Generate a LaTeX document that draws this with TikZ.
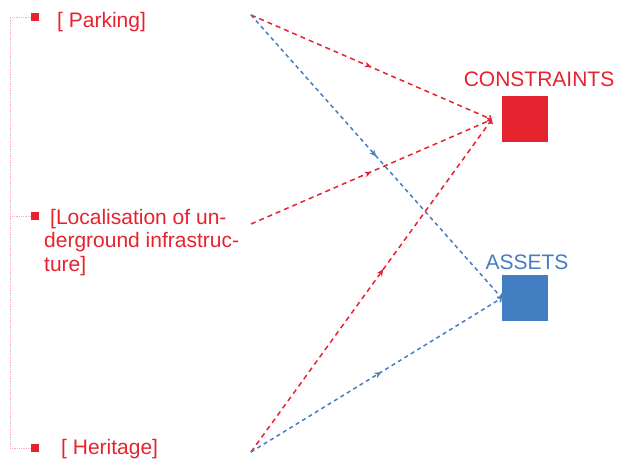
\documentclass[tikz,border=0pt]{standalone}
\usepackage{fontspec}
\setmainfont{Liberation Sans}
\usetikzlibrary{arrows.meta,calc,positioning,decorations.markings}
\definecolor{ConsRed}{HTML}{E5232F}
\definecolor{AssetBlue}{HTML}{447EC2}
\definecolor{BracePink}{HTML}{F4B0B6}
\tikzset{
  lbl/.style={font=\fontsize{21}{23.5}\selectfont, inner sep=0pt},
  bullet/.style={rectangle, fill=ConsRed, minimum size=8pt, inner sep=0pt},
  bracket/.style={draw=BracePink, line width=0.8pt, densely dotted},
  box/.style={rectangle, minimum size=46pt, inner sep=0pt},
  midarrow/.style={postaction={decorate, decoration={markings,
      mark=at position #1 with {\arrow{Stealth[length=7pt,width=6pt]}}}}},
  flow/.style={line width=1.5pt,
      -{Straight Barb[length=2.5pt,width=6pt]}},
  redflow/.style={flow, draw=ConsRed, dash pattern=on 5pt off 4pt, midarrow=#1},
  blueflow/.style={flow, draw=AssetBlue, dash pattern=on 4pt off 3.5pt, midarrow=#1},
}
\begin{document}
\begin{tikzpicture}[x=1pt,y=1pt]
\useasboundingbox (0,0) rectangle (618,462);
\node[bullet] (b1) at (35,445) {};
\node[bullet] (b2) at (35,246) {};
\node[bullet] (b3) at (35,14) {};
\coordinate (top) at (10,445);
\draw[bracket] (b1.west) -- (top) |- (b3.west);
\draw[bracket] (b2.west) -- (top |- b2.west);
\node[lbl, text=ConsRed, anchor=base west] (park) at (57,434) {[ Parking]};
\node[lbl, text=ConsRed, anchor=north west, align=left] (loc) at (44,253)
  {\hspace*{6pt}[Localisation of un-\\derground infrastruc-\\ture]};
\node[lbl, text=ConsRed, anchor=base west] (her) at (61,7) {[ Heritage]};
\node[box, fill=ConsRed] (cbox) at (525,342.5) {};
\node[box, fill=AssetBlue] (abox) at (525,164) {};
\node[lbl, text=ConsRed] (ctext) at (539,383) {CONSTRAINTS};
\node[lbl, text=AssetBlue] (atext) at (527,200) {ASSETS};
\coordinate (pstart) at (251,447);
\coordinate (lstart) at (251,238);
\coordinate (hstart) at (251,10);
\coordinate (cin) at ([xshift=-10pt]cbox.west);
\coordinate (ain) at (abox.west);
\draw[redflow=0.5] (pstart) -- (cin);
\draw[blueflow=0.5] (pstart) -- (ain);
\draw[redflow=0.5] (lstart) -- (cin);
\draw[redflow=0.55] (hstart) -- (cin);
\draw[blueflow=0.52] (hstart) -- (ain);
\end{tikzpicture}
\end{document}
